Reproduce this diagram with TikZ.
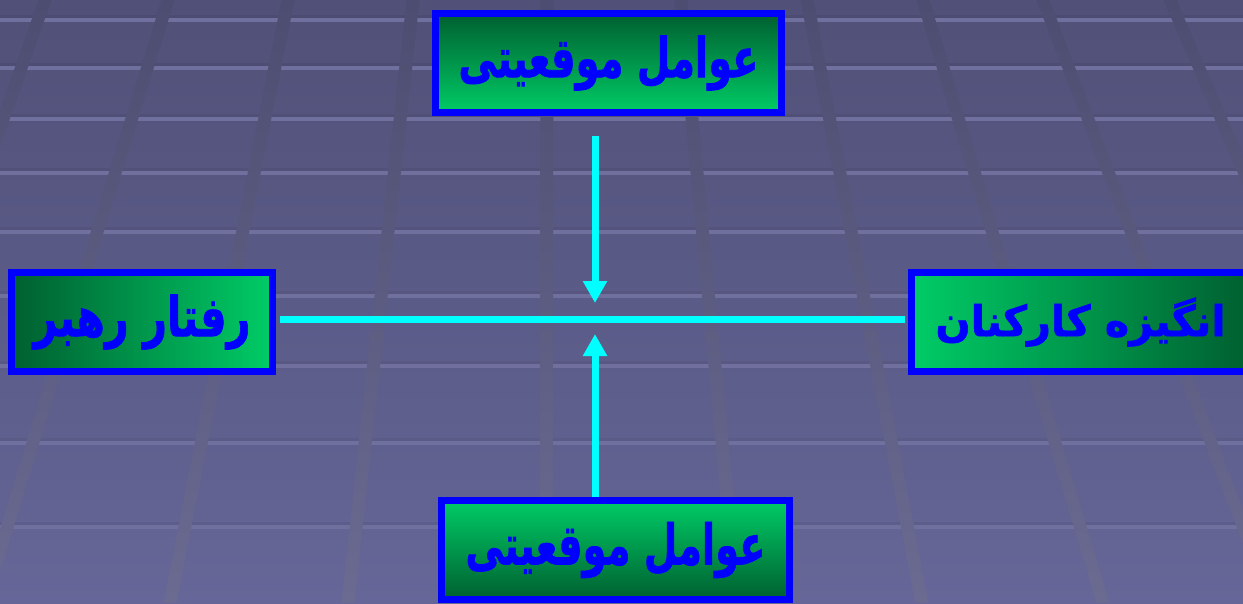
\documentclass[tikz,border=0pt]{standalone}
\usepackage{fontspec}
\usepackage{graphicx}
\usetikzlibrary{arrows.meta}
\TeXXeTstate=1
\newfontfamily\arabicfont[Script=Arabic,BoldFeatures={FakeBold=1.5}]{DejaVu Sans}
\definecolor{bgtop}{RGB}{80,80,120}
\definecolor{bgbot}{RGB}{102,102,152}
\definecolor{hband}{RGB}{112,112,158}
\definecolor{vup}{RGB}{77,77,113}
\definecolor{vlow}{RGB}{107,107,146}
\definecolor{gdark}{RGB}{0,95,48}
\definecolor{gbright}{RGB}{0,204,102}
\definecolor{boxblue}{RGB}{0,0,255}
\definecolor{cyanline}{RGB}{0,255,255}
\newcommand{\fatxt}[3]{\resizebox*{#1}{#2}{\arabicfont\bfseries #3}}
\begin{document}
\begin{tikzpicture}[x=1pt,y=-1pt,
  factor/.style={draw=boxblue, line width=7pt, inner sep=0pt, text=boxblue, minimum height=99pt},
  conn/.style={draw=cyanline, line width=7pt},
  arr/.style={conn, -{Triangle[width=23pt,length=22pt]}},
  hgrid/.style={draw=hband, line width=4pt},
  hshadow/.style={draw=black, opacity=0.05, line width=3pt}]
\useasboundingbox (0,0) rectangle (1243,603);
\begin{scope}
\clip (0,0) rectangle (1243,603);
\shade[top color=bgtop, bottom color=bgbot] (0,0) rectangle (1243,603);
\foreach \yy in {20,68,119,173,232,296,366,443,527}{
  \draw[hshadow] (0,\yy-3.5) -- (1243,\yy-3.5);
  \draw[hgrid] (0,\yy) -- (1243,\yy);}
\begin{scope}
\clip
  \foreach \xa/\xb in {45/-166,168/-16,288/170,413/348,547/546,681/737,807/922,923/1103,1043/1272,1170/1429}{
    (\xa-6.5,0) -- (\xa+6.5,0) -- (\xb+6.5,603) -- (\xb-6.5,603) -- cycle};
\shade[top color=vup, bottom color=vlow] (-200,0) rectangle (1500,603);
\end{scope}

\node[factor, minimum width=346pt, top color=gdark, bottom color=gbright] (topf) at (608.5,63) {\fatxt{300pt}{55pt}{\beginR عوامل موقعیتی\endR}};
\node[factor, minimum width=261pt, left color=gdark, right color=gbright] (lead) at (142,322) {\fatxt{217pt}{55pt}{\beginR رفتار رهبر\endR}};
\node[factor, minimum width=338pt, left color=gbright, right color=gdark] (emp) at (1080.5,322) {\fatxt{290pt}{49pt}{\beginR انگیزه کارکنان\endR}};
\node[factor, minimum width=348pt, top color=gbright, bottom color=gdark] (botf) at (615.5,550) {\fatxt{300pt}{56pt}{\beginR عوامل موقعیتی\endR}};

\coordinate (dstart) at (595,136);
\coordinate (dend) at (595,303);
\coordinate (uend) at (595,334);
\draw[conn, shorten <=3.5pt, shorten >=3.5pt] ([yshift=3pt]lead.east) -- ([yshift=3pt]emp.west);
\draw[arr] (dstart) -- (dend);
\draw[arr] (botf.north -| dstart) -- (uend);
\end{scope}
\end{tikzpicture}
\end{document}
